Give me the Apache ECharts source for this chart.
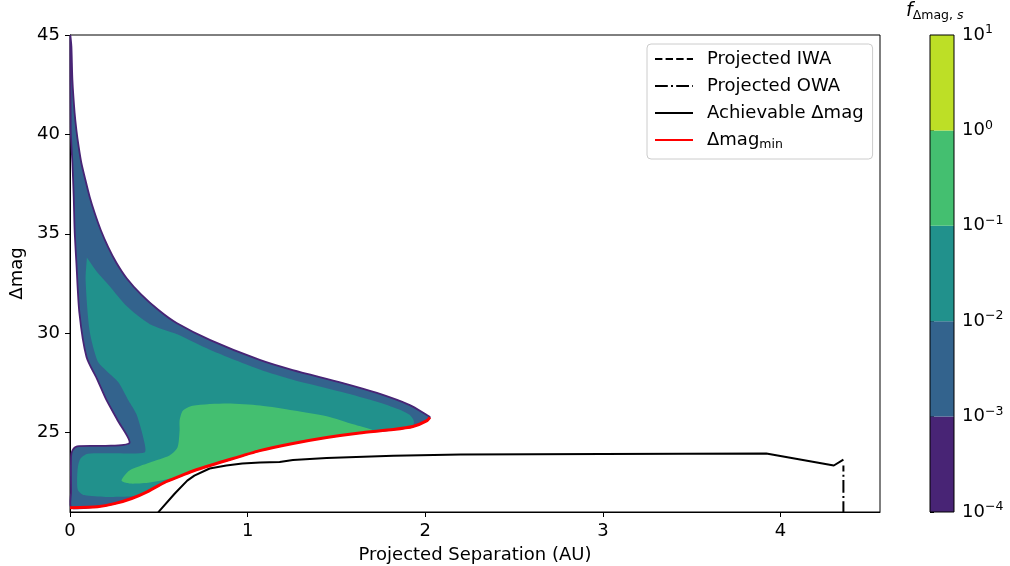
<!DOCTYPE html>
<html>
<head>
<meta charset="utf-8">
<script src="https://cdn.jsdelivr.net/npm/echarts@6/dist/echarts.min.js"></script>
<style>
  html, body { margin: 0; padding: 0; background: #fff; }
  #chart { width: 1010px; height: 566px; }
</style>
</head>
<body>
<div id="chart"></div>
<script>
// Axis ticks
const sepTicks = [0, 1, 2, 3, 4];
const dmagTicks = [25, 30, 35, 40, 45];

// Colour-bar levels of f_{Δmag,s}
const fLevels = [1e-4, 1e-3, 1e-2, 1e-1, 1, 10];

// Contour regions: [separation (AU), Δmag]
const region1e3 = [
  [0.002, 45.0], [0.008, 44.41], [0.0135, 42.74], [0.026, 41.08], [0.036, 40.22],
  [0.049, 39.37], [0.064, 38.56], [0.087, 37.7], [0.111, 36.85], [0.139, 36.04],
  [0.173, 35.19], [0.215, 34.33], [0.262, 33.53], [0.32, 32.75], [0.40, 31.95],
  [0.50, 31.15], [0.60, 30.51], [0.79, 29.65], [1.068, 28.65], [1.254, 28.14],
  [1.536, 27.49], [1.728, 26.99], [1.913, 26.38], [2.009, 25.88], [2.026, 25.78],
  [2.01, 25.6], [1.93, 25.3], [1.82, 25.15], [1.63, 24.98], [1.445, 24.75],
  [1.255, 24.45], [1.068, 24.09], [0.88, 23.59], [0.70, 23.09], [0.627, 22.83],
  [0.53, 22.48], [0.437, 22.03], [0.347, 21.68], [0.25, 21.42], [0.155, 21.27],
  [0.008, 21.22],
  [0.006, 22.0], [0.006, 23.8], [0.014, 24.1], [0.04, 24.3], [0.20, 24.33],
  [0.335, 24.48],
  [0.267, 25.63], [0.205, 26.64], [0.155, 27.64], [0.093, 28.8], [0.053, 31.0],
  [0.036, 33.53], [0.026, 35.19], [0.021, 36.85], [0.0135, 38.56], [0.004, 40.22],
  [0.002, 45.0]
];

const region1e2 = [
  [0.095, 33.8], [0.15, 33.1], [0.22, 32.4], [0.32, 31.35], [0.45, 30.45],
  [0.60, 29.95], [0.79, 29.15], [1.068, 28.17], [1.254, 27.66], [1.536, 27.03],
  [1.728, 26.55], [1.85, 26.17], [1.91, 25.9], [1.935, 25.6], [1.93, 25.32],
  [1.82, 25.17], [1.63, 25.0], [1.445, 24.77], [1.255, 24.47], [1.068, 24.11],
  [0.88, 23.61], [0.70, 23.11], [0.627, 22.85], [0.53, 22.5], [0.437, 22.06],
  [0.36, 21.8], [0.2, 21.76], [0.08, 21.85], [0.045, 22.1], [0.04, 22.6],
  [0.045, 23.3], [0.06, 23.7], [0.1, 23.93], [0.25, 23.96], [0.42, 24.0],
  [0.42, 24.45],
  [0.375, 25.9], [0.33, 26.6], [0.27, 27.55], [0.2, 28.15], [0.155, 28.6],
  [0.11, 30.13], [0.088, 32.65],
  [0.095, 33.8]
];

const region1e1 = [
  [0.617, 25.6], [0.635, 26.1], [0.69, 26.35], [0.885, 26.46], [1.07, 26.36],
  [1.26, 26.11], [1.445, 25.82], [1.6, 25.4], [1.72, 25.06],
  [1.63, 25.0], [1.445, 24.77], [1.255, 24.47], [1.068, 24.11], [0.88, 23.61],
  [0.70, 23.1], [0.59, 22.73], [0.45, 22.48], [0.335, 22.43], [0.29, 22.58],
  [0.335, 23.09], [0.45, 23.49], [0.56, 23.84], [0.605, 24.24], [0.617, 25.1]
];

const region1e0 = [
  [0.93, 23.72], [0.98, 23.9], [1.04, 24.06], [1.02, 23.98], [0.96, 23.78]
];

// Curves
const dmagMin = [
  [0.0, 21.22], [0.155, 21.27], [0.25, 21.42], [0.347, 21.68], [0.437, 22.03],
  [0.53, 22.48], [0.627, 22.83], [0.70, 23.09], [0.88, 23.59], [1.068, 24.09],
  [1.255, 24.45], [1.445, 24.75], [1.63, 24.98], [1.82, 25.15], [1.93, 25.3],
  [2.01, 25.6], [2.026, 25.76]
];

const achievable = [
  [0.49, 20.9], [0.505, 21.07], [0.59, 21.93], [0.66, 22.58], [0.70, 22.83],
  [0.786, 23.19], [0.88, 23.34], [0.97, 23.44], [1.07, 23.49], [1.18, 23.52],
  [1.255, 23.62], [1.445, 23.72], [1.82, 23.83], [2.2, 23.89], [3.0, 23.92],
  [3.92, 23.94], [4.30, 23.34], [4.354, 23.64]
];

const projOWA = [[4.354, 20.9], [4.354, 23.34]];
const projIWA = [];

const viridis = ['#482475', '#33638d', '#21918c', '#44bf70', '#bddf26'];
const FONT = 'DejaVu Sans';
const FS = 18;

function polygonSeries(points, fill, stroke, lw) {
  return {
    type: 'custom',
    xAxisIndex: 0, yAxisIndex: 0,
    silent: true,
    z: 1,
    data: [0],
    renderItem: function (params, api) {
      return {
        type: 'polygon',
        shape: { points: points.map(p => api.coord(p)), smooth: 0.25 },
        style: { fill: fill, stroke: stroke || null, lineWidth: lw || 0 }
      };
    }
  };
}

const bands = fLevels.slice(0, -1).map((lo, i) => [lo, fLevels[i + 1], i]);

const chart = echarts.init(document.getElementById('chart'), null, { renderer: 'canvas' });

chart.setOption({
  animation: false,
  backgroundColor: '#fff',
  textStyle: { fontFamily: FONT },
  grid: [
    { left: 70, top: 35, width: 810, height: 477, outerBoundsMode: 'none', containLabel: false,
      show: true, borderColor: '#000', borderWidth: 1, backgroundColor: 'transparent' },
    { left: 930, top: 35, width: 24, height: 477, outerBoundsMode: 'none', containLabel: false, show: false }
  ],
  xAxis: [
    {
      gridIndex: 0, type: 'value', min: 0, max: 4.56,
      name: 'Projected Separation (AU)', nameLocation: 'middle', nameGap: 34,
      nameTextStyle: { fontFamily: FONT, fontSize: FS, color: '#000' },
      axisLine: { show: true, onZero: false, lineStyle: { color: '#000', width: 1 } },
      axisTick: { show: true, inside: false, length: 5, customValues: sepTicks, lineStyle: { color: '#000' } },
      axisLabel: { customValues: sepTicks, margin: 10, fontFamily: FONT, fontSize: FS, color: '#000' },
      splitLine: { show: false }
    },
    { gridIndex: 1, type: 'value', min: 0, max: 1, show: false }
  ],
  yAxis: [
    {
      gridIndex: 0, type: 'value', min: 21, max: 45,
      name: 'Δmag', nameLocation: 'middle', nameGap: 44, nameRotate: 90,
      nameTextStyle: { fontFamily: FONT, fontSize: FS, color: '#000' },
      axisLine: { show: true, onZero: false, lineStyle: { color: '#000', width: 1 } },
      axisTick: { show: true, inside: false, length: 5, customValues: dmagTicks, lineStyle: { color: '#000' } },
      axisLabel: { customValues: dmagTicks, margin: 10, fontFamily: FONT, fontSize: FS, color: '#000' },
      splitLine: { show: false }
    },
    {
      gridIndex: 1, type: 'log', logBase: 10, min: 1e-4, max: 10, position: 'right',
      axisLine: { show: false },
      axisTick: { show: true, inside: false, length: 4, lineStyle: { color: '#000' } },
      minorTick: { show: false },
      splitLine: { show: false },
      axisLabel: {
        margin: 8, color: '#000', fontFamily: FONT, fontSize: FS,
        formatter: function (v) {
          const e = Math.round(Math.log10(v));
          return '10{sup|' + (e < 0 ? '\u2212' + (-e) : e) + '}';
        },
        rich: { sup: { fontFamily: FONT, fontSize: 12.5, padding: [0, 0, 10, 0], color: '#000' } }
      }
    }
  ],
  legend: {
    orient: 'vertical',
    left: 647, top: 44,
    data: ['Projected IWA', 'Projected OWA', 'Achievable Δmag', 'Δmag_min'],
    itemWidth: 38, itemHeight: 14, itemGap: 9,
    padding: [6, 9, 8, 7],
    backgroundColor: 'rgba(255,255,255,0.85)',
    borderColor: '#cccccc', borderWidth: 1, borderRadius: 4,
    itemStyle: { opacity: 0 },
    formatter: function (name) {
      return name === 'Δmag_min' ? 'Δmag{sub|min}' : name;
    },
    textStyle: {
      fontFamily: FONT, fontSize: FS, color: '#000', padding: [0, 0, 0, 9],
      rich: { sub: { fontFamily: FONT, fontSize: 12.5, padding: [9, 0, 0, 0], color: '#000' } }
    }
  },
  graphic: [
    {
      type: 'text', left: 906, top: 2, z: 10,
      style: {
        text: '{f|f}{sub|Δmag, }{s|s}',
        rich: {
          f: { fontFamily: FONT, fontStyle: 'italic', fontSize: 19, fill: '#000' },
          sub: { fontFamily: FONT, fontSize: 12.5, padding: [9, 0, 0, 0], fill: '#000' },
          s: { fontFamily: FONT, fontStyle: 'italic', fontSize: 12.5, padding: [9, 0, 0, 0], fill: '#000' }
        }
      }
    }
  ],
  series: [
    polygonSeries(region1e3, viridis[1], viridis[0], 1.8),
    polygonSeries(region1e2, viridis[2]),
    polygonSeries(region1e1, viridis[3]),
    polygonSeries(region1e0, viridis[4]),
    {
      name: 'Projected IWA', type: 'line', data: projIWA, symbol: 'none', z: 5,
      lineStyle: { color: '#000', width: 2, type: [7.4, 3.2] }, itemStyle: { color: '#000' }
    },
    {
      name: 'Projected OWA', type: 'line', data: projOWA, symbol: 'none', z: 5,
      lineStyle: { color: '#000', width: 2, type: [12.8, 3.2, 2, 3.2] }, itemStyle: { color: '#000' }
    },
    {
      name: 'Achievable Δmag', type: 'line', data: achievable, symbol: 'none', z: 5,
      lineStyle: { color: '#000', width: 2 }, itemStyle: { color: '#000' }
    },
    {
      name: 'Δmag_min', type: 'line', data: dmagMin, symbol: 'none', z: 6, smooth: 0.2,
      lineStyle: { color: '#ff0000', width: 3 }, itemStyle: { color: '#ff0000' }
    },
    {
      type: 'custom', xAxisIndex: 1, yAxisIndex: 1, silent: true, data: bands,
      renderItem: function (params, api) {
        const a = api.coord([0, api.value(1)]);
        const b = api.coord([1, api.value(0)]);
        return {
          type: 'rect',
          shape: { x: a[0], y: a[1], width: b[0] - a[0], height: b[1] - a[1] },
          style: { fill: viridis[api.value(2)] }
        };
      }
    },
    {
      type: 'custom', xAxisIndex: 1, yAxisIndex: 1, silent: true, z: 3,
      data: [[fLevels[0], fLevels[fLevels.length - 1]]],
      renderItem: function (params, api) {
        const a = api.coord([0, api.value(1)]);
        const b = api.coord([1, api.value(0)]);
        return {
          type: 'rect',
          shape: { x: a[0], y: a[1], width: b[0] - a[0], height: b[1] - a[1] },
          style: { fill: null, stroke: '#000', lineWidth: 1 }
        };
      }
    }
  ]
});
</script>
</body>
</html>
